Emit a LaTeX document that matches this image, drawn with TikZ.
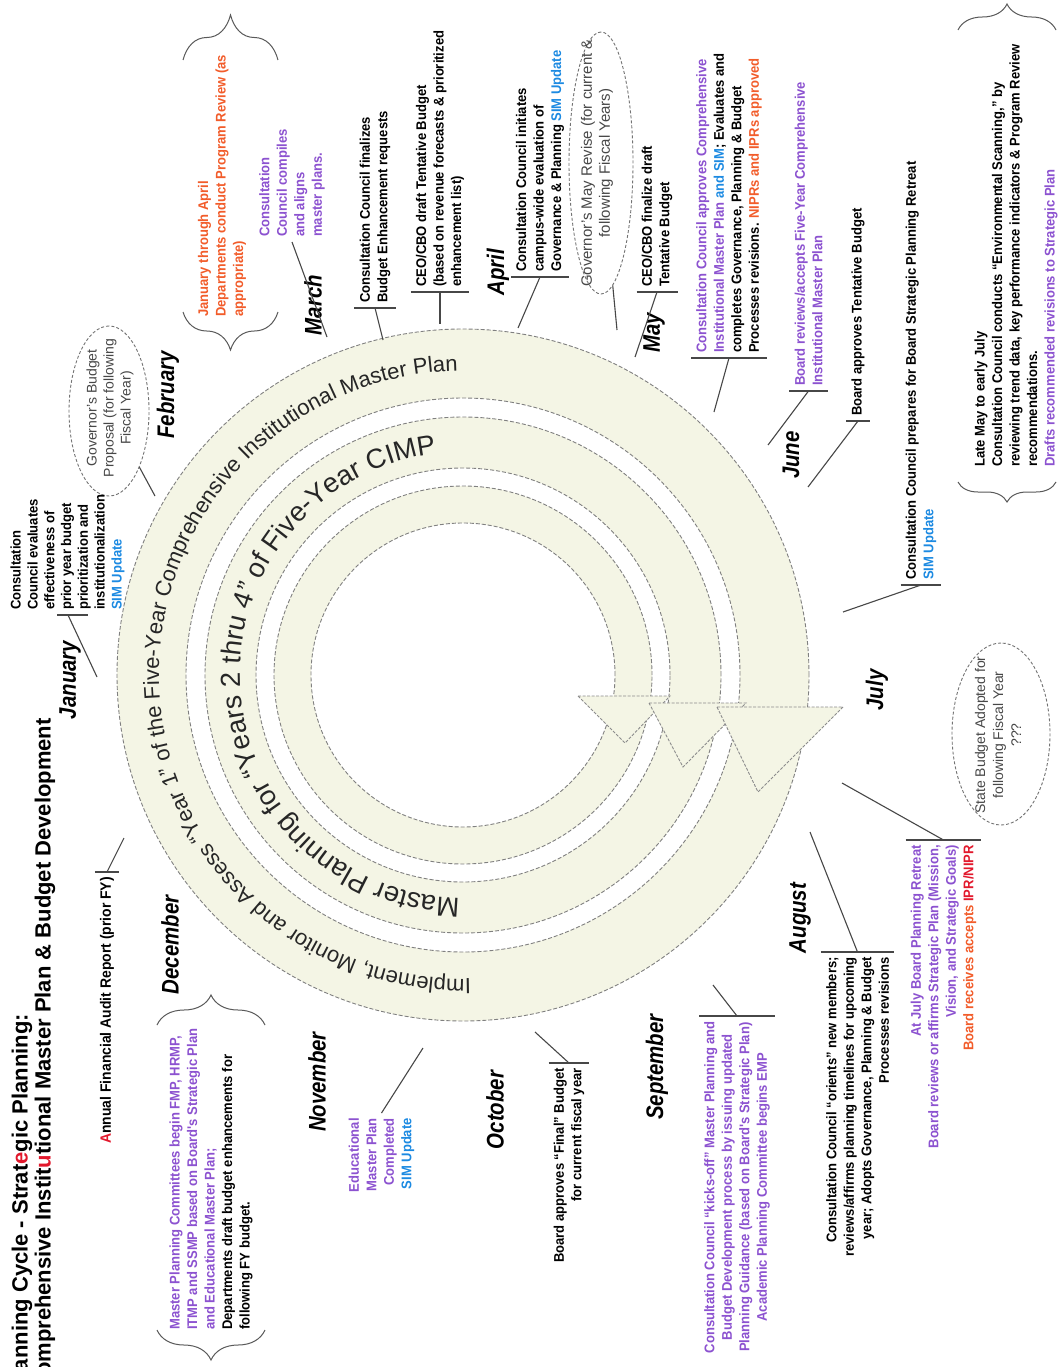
\documentclass[tikz,border=0pt]{standalone}
\usepackage{fontspec}
\setmainfont{Liberation Sans}
\newfontfamily\callfont{Liberation Sans}[FakeStretch=0.93]
\newfontfamily\monthfont{Liberation Sans}[FakeStretch=0.85]
\usetikzlibrary{shapes.geometric,decorations.text,decorations.pathreplacing,calc}
\definecolor{cream}{RGB}{244,245,229}
\definecolor{purp}{RGB}{140,82,208}
\definecolor{simblue}{RGB}{28,138,226}
\definecolor{orng}{RGB}{242,92,42}
\definecolor{hred}{RGB}{226,24,44}
\newcommand\ringA{\fontsize{22}{22}\selectfont}
\newcommand\ringB{\fontsize{27.5}{27.5}\selectfont}
\begin{document}
\begin{tikzpicture}[x=1pt,y=1pt,
  lead/.style={draw=black!72, line width=1.1pt},
  call/.style={rotate=90, font=\callfont\bfseries\fontsize{14}{17.5}\selectfont, inner xsep=5pt, inner ysep=5pt},
  month/.style={rotate=90, font=\monthfont\bfseries\itshape\fontsize{24}{24}\selectfont, inner sep=0pt},
  ell/.style={rotate=90, ellipse, draw=black!55, dash pattern=on 3pt off 2pt, line width=0.9pt, inner sep=0pt},
  elltxt/.style={rotate=90, font=\fontsize{15}{18}\selectfont, text=black!72, align=center, inner sep=0pt},
  titletxt/.style={rotate=90, anchor=west, align=left, font=\bfseries\fontsize{22}{23}\selectfont, inner sep=0pt},
  ringedge/.style={draw=black!50, line width=0.9pt, dash pattern=on 4pt off 2pt},
  arrowhd/.style={fill=cream, draw=black!45, line width=0.9pt, dash pattern=on 3pt off 1.5pt},
  bracestyle/.style={draw=black!65, line width=1pt, decorate, decoration={brace, amplitude=#1}}
]
\useasboundingbox (0,0) rectangle (1062,-1367);
\fill[white] (0,0) rectangle (1062,-1367);
\clip (0,0) rectangle (1062,-1367);

% ---------- rings ----------
\coordinate (C) at (463,-675);
\fill[cream, even odd rule] (C) circle[radius=346] (C) circle[radius=277];
\fill[cream, even odd rule] (C) circle[radius=258] (C) circle[radius=207];
\fill[cream, even odd rule] (C) circle[radius=189] (C) circle[radius=152];
\foreach \r in {346,277,258,207,189,152} \draw[ringedge] (C) circle[radius=\r];

% arrow heads
\filldraw[arrowhd] (578,-696) -- (670,-696) -- (625,-743) -- cycle;
\filldraw[arrowhd] (649,-703) -- (746,-703) -- (683,-767) -- cycle;
\filldraw[arrowhd] (717,-707) -- (843,-707) -- (758,-792) -- cycle;

% ring texts
\path[decorate, decoration={text along path, text align=center, text color=black!85,
  text={|\ringA|Implement, Monitor and Assess “Year 1” of the Five-Year Comprehensive Institutional Master Plan}}]
  ($(C)+(-38.75:304)$) arc[start angle=-38.75, end angle=-318.75, radius=304];
\path[decorate, decoration={text along path, text align=center, text color=black!85,
  text={|\ringB|Master Planning for “Years 2 thru 4” of Five-Year CIMP}}]
  ($(C)+(-37:223)$) arc[start angle=-37, end angle=-317, radius=223];

% ---------- title ----------
\node[titletxt] (title) at (33.5,-1392) {Planning Cycle - Strat\textcolor{hred}{e}gic Planning:\\Comprehensive Instit\textcolor{hred}{u}tional Master Plan \& Budget Development};

% ---------- months ----------
\node[month] (jan) at (70,-680) {January};
\node[month] (feb) at (168,-395) {February};
\node[month] (mar) at (313,-305) {March};
\node[month] (apr) at (498,-272) {April};
\node[month] (may) at (654,-333) {May};
\node[month] (jun) at (791,-455) {June};
\node[month] (jul) at (877,-690) {July};
\node[month] (aug) at (800,-918) {August};
\node[month] (sep) at (657,-1067) {September};
\node[month] (oct) at (495,-1110) {October};
\node[month] (nov) at (317,-1082) {November};
\node[month] (dec) at (170,-945) {December};

% ---------- ellipses ----------
\node[ell, minimum width=170pt, minimum height=80pt] (govell) at (109,-411) {};
\node[elltxt, font=\fontsize{14}{17}\selectfont] (govtxt) at (110,-408) {Governor's Budget\\Proposal (for following\\Fiscal Year)};
\node[ell, minimum width=262pt, minimum height=64pt] (mayell) at (601,-163) {};
\node[elltxt] (maytxt) at (597,-163) {Governor's May Revise (for current \&\\following Fiscal Years)};
\node[ell, minimum width=182pt, minimum height=98pt] (stell) at (1001,-734) {};
\node[elltxt, font=\fontsize{14}{18}\selectfont] (sttxt) at (998,-735) {State Budget Adopted for\\following Fiscal Year\\???};

% ---------- callouts (upper half) ----------
\node[call, anchor=west, align=left, font=\callfont\bfseries\fontsize{14}{16.8}\selectfont] (eval) at (67.5,-615)
 {Consultation\\Council evaluates\\effectiveness of\\prior year budget\\prioritization and\\institutionalization\\\textcolor{simblue}{SIM Update}};
\node[call, anchor=west, align=left, text=orng] (janapr) at (222,-322)
 {January through April\\Departments conduct Program Review (as\\appropriate)};
\node[call, anchor=west, align=left, text=purp] (comp) at (292,-242)
 {Consultation\\Council compiles\\and aligns\\master plans.};
\node[call, anchor=west, align=left] (fin) at (375,-308)
 {Consultation Council finalizes\\Budget Enhancement requests};
\node[call, anchor=west, align=left] (ceo) at (440,-292)
 {CEO/CBO draft Tentative Budget\\(based on revenue forecasts \& prioritized\\enhancement list)};
\node[call, anchor=west, align=left] (init) at (540,-277)
 {Consultation Council initiates\\campus-wide evaluation of\\Governance \& Planning \textcolor{simblue}{SIM Update}};
\node[call, anchor=west, align=left] (fdraft) at (657,-292)
 {CEO/CBO finalize draft\\Tentative Budget};
\node[call, anchor=west, align=left] (appr) at (729,-358)
 {\textcolor{purp}{Consultation Council approves Comprehensive}\\\textcolor{purp}{Institutional Master Plan} \textcolor{simblue}{and SIM}; Evaluates and\\completes Governance, Planning \& Budget\\Processes revisions. \textcolor{orng}{NIPRs and IPRs approved}};
\node[call, anchor=west, align=left, text=purp] (acc) at (808.5,-391)
 {Board reviews/accepts Five-Year Comprehensive\\Institutional Master Plan};
\node[call, anchor=west, align=left] (tent) at (858,-421)
 {Board approves Tentative Budget};
\node[call, anchor=west, align=left] (prep) at (921,-585)
 {Consultation Council prepares for Board Strategic Planning Retreat\\\textcolor{simblue}{SIM Update}};
\node[call, anchor=west, align=left] (late) at (1016,-472)
 {Late May to early July\\Consultation Council conducts “Environmental Scanning,” by\\reviewing trend data, key performance indicators \& Program Review\\recommendations.\\\textcolor{purp}{Drafts recommended revisions to Strategic Plan}};

% ---------- callouts (lower half) ----------
\node[call, anchor=east, align=right] (retr) at (943.5,-840)
 {\textcolor{purp}{At July Board Planning Retreat}\\\textcolor{purp}{Board reviews or affirms Strategic Plan (Mission,}\\\textcolor{purp}{Vision, and Strategic Goals)}\\\textcolor{orng}{Board receives accepts} \textcolor{hred}{IPR/NIPR}};
\node[call, anchor=east, align=right] (orient) at (857.5,-952)
 {Consultation Council “orients” new members;\\reviews/affirms planning timelines for upcoming\\year; Adopts Governance, Planning \& Budget\\Processes revisions};
\node[call, anchor=east, align=center, text=purp] (kick) at (737,-1016)
 {Consultation Council “kicks-off” Master Planning and\\Budget Development process by issuing updated\\Planning Guidance (based on Board's Strategic Plan)\\Academic Planning Committee begins EMP};
\node[call, anchor=east, align=right] (finalb) at (569,-1063)
 {Board approves “Final” Budget\\for current fiscal year};
\node[call, anchor=east, align=right] (edmp) at (381.5,-1113)
 {\textcolor{purp}{Educational}\\\textcolor{purp}{Master Plan}\\\textcolor{purp}{Completed}\\\textcolor{simblue}{SIM Update}};
\node[call, anchor=west, align=left] (mpc) at (211,-1335)
 {\textcolor{purp}{Master Planning Committees begin FMP, HRMP,}\\\textcolor{purp}{ITMP and SSMP based on Board's Strategic Plan}\\\textcolor{purp}{and Educational Master Plan;}\\Departments draft budget enhancements for\\following FY budget.};
\node[call, anchor=east, align=left, font=\callfont\bfseries\fontsize{15}{17.5}\selectfont] (audit) at (107,-872)
 {\textcolor{hred}{A}nnual Financial Audit Report (prior FY)};

% ---------- braces ----------
\draw[bracestyle=45pt] (183,-60) -- (278,-60);
\draw[bracestyle=38pt] (278,-312) -- (183,-312);
\draw[bracestyle=30pt] (157,-1025) -- (265,-1025);
\draw[bracestyle=30pt] (265,-1330) -- (157,-1330);
\draw[bracestyle=26pt] (958,-30) -- (1056,-30);
\draw[bracestyle=20pt] (1056,-482) -- (958,-482);

% ---------- leader end points ----------
\coordinate (evb1) at (57,-615);
\coordinate (evb2) at (88,-615);
\coordinate (evm) at (68,-615);
\coordinate (evt) at (97,-677);
\coordinate (govt) at (155,-496);
\coordinate (compt) at (327,-337);
\coordinate (fint) at (383,-340);
\coordinate (ceot) at (440,-324);
\coordinate (initt) at (518,-328);
\coordinate (mayt) at (617,-330);
\coordinate (fdt) at (635,-357);
\coordinate (apprt) at (714,-412);
\coordinate (acct) at (768,-445);
\coordinate (tentt) at (808,-487);
\coordinate (prept) at (843,-612);
\coordinate (retrt) at (842,-783);
\coordinate (orientt) at (810,-832);
\coordinate (kickt) at (713,-985);
\coordinate (finalt) at (535,-1032);
\coordinate (edmpt) at (423,-1048);
\coordinate (auditt) at (124,-838);

% ---------- connectors ----------
\draw[lead] (evb1) -- (evb2);
\draw[lead] (evm) -- (evt);
\draw[lead] (govell) -- (govt);
\draw[lead] (comp.west) -- (compt);
\draw[lead] (mayell) -- (mayt);
\foreach \n/\t in {fin/fint, ceo/ceot, init/initt, fdraft/fdt, appr/apprt, acc/acct, tent/tentt, prep/prept}{
  \draw[lead] (\n.north west) -- (\n.south west);
  \draw[lead] (\n.west) -- (\t);
}
\foreach \n/\t in {retr/retrt, orient/orientt, kick/kickt, finalb/finalt, audit/auditt}{
  \draw[lead] (\n.north east) -- (\n.south east);
  \draw[lead] (\n.east) -- (\t);
}
\draw[lead] (edmp.east) -- (edmpt);
\end{tikzpicture}
\end{document}
